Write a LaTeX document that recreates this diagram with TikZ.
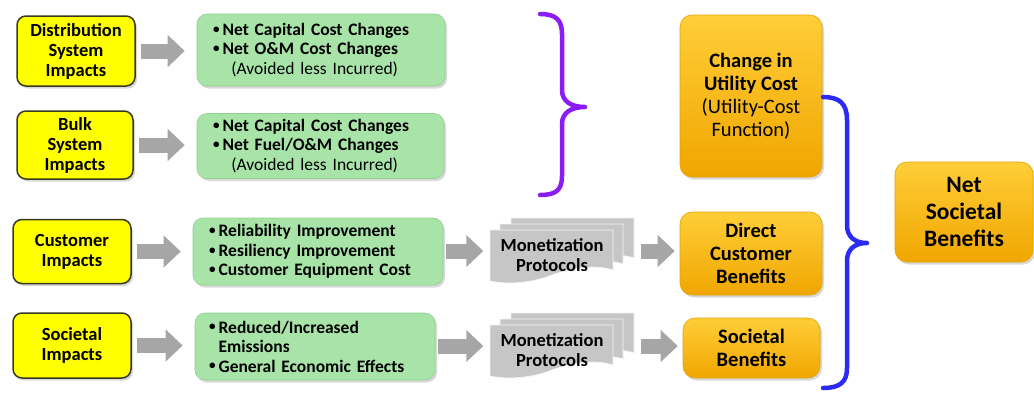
\documentclass[tikz,border=0pt]{standalone}
\usepackage{fontspec}
\setmainfont{Carlito}
\usetikzlibrary{arrows.meta,shadows}
\definecolor{yel}{HTML}{FFFF00}
\definecolor{ybord}{HTML}{3A3A20}
\definecolor{grn}{HTML}{A8E4A8}
\definecolor{grnb}{HTML}{90D090}
\definecolor{orA}{HTML}{FFCE38}
\definecolor{orB}{HTML}{F0A600}
\definecolor{orb}{HTML}{E5A400}
\definecolor{garrow}{HTML}{A6A6A6}
\definecolor{docgray}{HTML}{C6C6C6}
\definecolor{purp}{HTML}{8A1CF5}
\definecolor{blu}{HTML}{2B2BF5}
\tikzset{
  shad/.style={drop shadow={shadow xshift=2pt,shadow yshift=-2.5pt,opacity=0.3}},
  impact/.style={draw=ybord,line width=1.5pt,fill=yel,rounded corners=9pt,align=center,
    font=\fontsize{18.5}{20}\selectfont\bfseries,inner sep=0pt,shad},
  effect/.style={draw=grnb,line width=0.6pt,fill=grn,rounded corners=10pt,align=left,
    font=\fontsize{17.5}{19.5}\selectfont\bfseries,inner xsep=16pt,inner ysep=0pt,shad},
  result/.style={draw=orb,line width=0.6pt,top color=orA,bottom color=orB,rounded corners=12pt,
    align=center,inner sep=0pt,shad},
  blockarrow/.style={draw=garrow,line width=15pt,-{Triangle[length=17pt,width=31pt]}},
  docsheet/.pic={\path[fill=docgray,draw=white!92!gray,line width=0.8pt]
    (0,0) -- (123,0) -- (123,40) .. controls (104,34) and (82,38) .. (62,45)
    .. controls (42,53) and (18,55) .. (0,51) -- cycle;},
  montext/.style={font=\fontsize{18.5}{20}\selectfont\bfseries,align=center,inner sep=0pt,
    minimum width=123pt,minimum height=51pt},
  bracepath/.style={line width=4.5pt,line cap=round,line join=round}
}
\newcommand{\bul}{\makebox[0.55em][l]{\raisebox{0.12em}{\scalebox{0.75}{•}}}}
\begin{document}
\begin{tikzpicture}[x=1pt,y=-1pt]
\useasboundingbox[fill=white] (0,0) rectangle (1034,392);

% impacts
\node[impact,minimum width=118pt,minimum height=70pt] (d1) at (76,51) {Distribution\\System\\Impacts};
\node[impact,minimum width=116pt,minimum height=68pt] (d2) at (75,145) {Bulk\\System\\Impacts};
\node[impact,minimum width=118pt,minimum height=64pt] (d3) at (72,251.5) {Customer\\Impacts};
\node[impact,minimum width=118pt,minimum height=65pt] (d4) at (72,345.5) {Societal\\Impacts};

% effects
\node[effect,text width=216pt,minimum height=72pt] (g1) at (321,50)
  {\bul Net Capital Cost Changes\\\bul Net O\&M Cost Changes\\\hspace*{1.05em}\textnormal{(Avoided less Incurred)}};
\node[effect,text width=215pt,minimum height=65pt] (g2) at (320.5,146)
  {\bul Net Capital Cost Changes\\\bul Net Fuel/O\&M Changes\\\hspace*{1.05em}\textnormal{(Avoided less Incurred)}};
\node[effect,text width=218pt,minimum height=67pt] (g3) at (318,251.5)
  {\bul Reliability Improvement\\\bul Resiliency Improvement\\\bul Customer Equipment Cost};
\node[effect,text width=212pt,minimum height=67pt,inner xsep=14pt] (g4) at (315,346.5)
  {\bul Reduced/Increased\\\hspace*{0.55em}Emissions\\\bul General Economic Effects};

% arrows impacts -> effects
\foreach \a/\b in {d1/g1,d2/g2,d3/g3,d4/g4}
  \draw[blockarrow,shorten <=5pt,shorten >=12pt] (\a.east) -- (\a.east -| \b.west);

% monetization stacks
\foreach \yy in {0,95}{
  \begin{scope}[yshift=-\yy pt]
  \pic at (511,218) {docsheet};
  \pic at (500,224) {docsheet};
  \pic at (490,230) {docsheet};
  \end{scope}
}
\node[montext] (m1) at (552,255.5) {Monetization\\Protocols};
\node[montext] (m2) at (552,350.5) {Monetization\\Protocols};

% results
\node[result,minimum width=142pt,minimum height=162pt,font=\fontsize{20.5}{23}\selectfont] (o1) at (751,96)
  {\textbf{Change in}\\\textbf{Utility Cost}\\(Utility-Cost\\Function)};
\node[result,minimum width=142pt,minimum height=83pt,font=\fontsize{20.5}{23}\selectfont\bfseries] (o2) at (751,253.5)
  {Direct\\Customer\\Benefits};
\node[result,minimum width=137pt,minimum height=60pt,font=\fontsize{20.5}{23}\selectfont\bfseries] (o3) at (751.5,348)
  {Societal\\Benefits};
\node[result,minimum width=138pt,minimum height=100pt,font=\fontsize{23.5}{27}\selectfont\bfseries] (net) at (964,212)
  {Net\\Societal\\Benefits};

% arrows effects -> monetization -> results
\coordinate (a3) at (448,251);
\coordinate (a4) at (448,346);
\draw[blockarrow,shorten <=3pt,shorten >=7pt] (g3.east |- a3) -- (m1.west |- a3);
\draw[blockarrow,shorten <=3pt,shorten >=7pt] (g4.east |- a4) -- (m2.west |- a4);
\draw[blockarrow,shorten <=27pt,shorten >=5pt] (m1.east |- a3) -- (o2.west |- a3);
\draw[blockarrow,shorten <=27pt,shorten >=5pt] (m2.east |- a4) -- (o3.west |- a4);

% braces
\coordinate (pt) at (540,14);
\coordinate (pm) at (585,107);
\coordinate (pb) at (540,195);
\draw[bracepath,purp] (pt) .. controls (556,14) and (562,20) .. (562,34) -- (562,90)
  .. controls (562,102) and (572,107) .. (pm)
  .. controls (572,107) and (562,112) .. (562,124) -- (562,176)
  .. controls (562,190) and (556,195) .. (pb);
\coordinate (bt) at (823,97);
\coordinate (bm) at (867,243);
\coordinate (bb) at (823,388);
\draw[bracepath,blu] (bt) .. controls (840,97) and (847,104) .. (847,120) -- (847,225)
  .. controls (847,237) and (855,243) .. (bm)
  .. controls (855,243) and (847,249) .. (847,261) -- (847,368)
  .. controls (847,382) and (840,388) .. (bb);
\end{tikzpicture}
\end{document}
